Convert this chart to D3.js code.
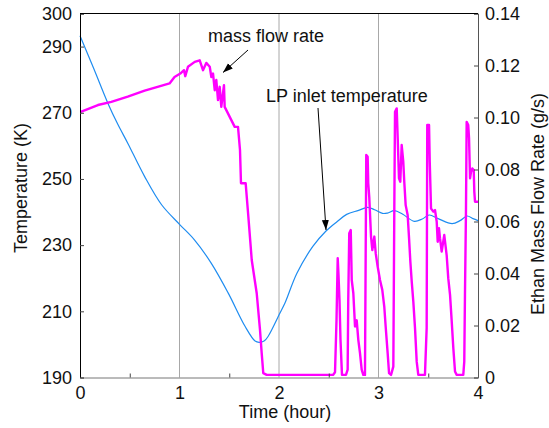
<!DOCTYPE html>
<html>
<head>
<meta charset="utf-8">
<script src="https://cdn.jsdelivr.net/npm/d3@7"></script>
<style>
  body { margin: 0; background: #fff; }
  svg { display: block; font-family: "Liberation Sans", Arial, sans-serif; }
</style>
</head>
<body>
<svg width="549" height="428"></svg>
<script>
// LP inlet temperature (K) vs time (hour)
const tempTime = [0, 0.14, 0.28, 0.38, 0.48, 0.65, 0.82, 1.0, 1.15, 1.32, 1.49, 1.66, 1.76, 1.80, 1.85, 1.89,
  2.01, 2.06, 2.18, 2.34, 2.47, 2.58, 2.68, 2.80, 2.89, 2.96, 3.04, 3.09, 3.16, 3.24, 3.36, 3.44, 3.51,
  3.60, 3.74, 3.82, 3.89, 3.95, 4.0];
const tempValues = [293.3, 283.2, 272.9, 266.5, 260.8, 250.7, 242.2, 236.3, 231.6, 224.5, 215.5, 205.4, 201.0, 200.6, 201.0, 202.4,
  209.5, 212.5, 221.5, 229.6, 234.2, 237.0, 239.3, 240.5, 241.4, 240.7, 239.6, 239.7, 240.4, 239.4, 237.2, 237.9, 239.1,
  238.0, 236.5, 237.4, 238.8, 238.0, 237.4];

// ethane mass flow rate (g/s) vs time (hour)
const flowTime = [0.007, 0.18, 0.315, 0.48, 0.65, 0.78, 0.90, 0.95, 1.008, 1.045, 1.058, 1.085, 1.153, 1.203, 1.236, 1.269,
  1.304, 1.320, 1.337, 1.354, 1.370, 1.387, 1.404, 1.420, 1.447, 1.454, 1.487, 1.521, 1.555, 1.588, 1.608, 1.618,
  1.665, 1.692, 1.726, 1.776, 1.809, 1.826, 1.842, 1.876,
  2.543, 2.563, 2.578, 2.590, 2.598, 2.608, 2.618, 2.633,
  2.673, 2.690, 2.696, 2.706, 2.721, 2.731, 2.747, 2.764, 2.781, 2.797, 2.814, 2.831, 2.847,
  2.864, 2.877, 2.891, 2.897, 2.907, 2.925, 2.938, 2.958, 2.972, 2.992, 3.015, 3.038, 3.058, 3.072, 3.092, 3.106, 3.126,
  3.149, 3.159, 3.166, 3.183, 3.193, 3.206, 3.219, 3.233, 3.249, 3.259, 3.273, 3.293, 3.307, 3.320, 3.334, 3.350,
  3.367, 3.384, 3.400, 3.467,
  3.484, 3.490, 3.508, 3.515, 3.528, 3.551, 3.568, 3.585, 3.595, 3.608, 3.618, 3.635, 3.661, 3.685, 3.701, 3.719,
  3.736, 3.752, 3.769, 3.786, 3.852,
  3.862, 3.869, 3.879, 3.886, 3.902, 3.910, 3.920, 3.930, 3.943, 3.957, 3.963, 3.970, 4.0];
const flowValues = [0.1022, 0.1048, 0.1060, 0.1080, 0.1103, 0.1118, 0.1131, 0.1156, 0.1169, 0.1182, 0.1159, 0.1195, 0.1214, 0.1220, 0.1182, 0.1210,
  0.1195, 0.1156, 0.1169, 0.1105, 0.1144, 0.1067, 0.1118, 0.1041, 0.1124, 0.1041, 0.1016, 0.0990, 0.0964, 0.0964, 0.0875, 0.0747,
  0.0747, 0.0619, 0.0452, 0.0324, 0.0183, 0.0094, 0.0017, 0.001,
  0.001, 0.002, 0.022, 0.0459, 0.0395, 0.0298, 0.0145, 0.001,
  0.001, 0.003, 0.0299, 0.0555, 0.0567, 0.0375, 0.0324, 0.0196, 0.022, 0.0145, 0.0094, 0.003, 0.001,
  0.001, 0.0856, 0.0849, 0.0747, 0.0695, 0.0542, 0.049, 0.0542, 0.0478, 0.0426, 0.0375, 0.0337, 0.0273, 0.0196, 0.0094, 0.0017, 0.001,
  0.0042, 0.0657, 0.1022, 0.1035, 0.092, 0.0766, 0.0753, 0.0894, 0.083, 0.0753, 0.0663, 0.0625, 0.0536, 0.0446, 0.0369, 0.0292,
  0.019, 0.0061, 0.001, 0.001,
  0.019, 0.0971, 0.0971, 0.083, 0.065, 0.0638, 0.0644, 0.0599, 0.0522, 0.0574, 0.0536, 0.0484, 0.0548, 0.0471, 0.0382, 0.0318,
  0.0215, 0.0113, 0.0023, 0.001, 0.001,
  0.0061, 0.0318, 0.0638, 0.0983, 0.0971, 0.092, 0.0766, 0.0791, 0.0804, 0.0798, 0.0714, 0.0676, 0.0676];

const timeTicks = [0, 1, 2, 3, 4];
const minorTimeTicks = [0.5, 1.5, 2.5, 3.5];
const gridTimes = [1, 2, 3];
const tempTicks = [190, 210, 230, 250, 270, 290, 300];
const flowTicks = [0, 0.02, 0.04, 0.06, 0.08, 0.10, 0.12, 0.14];

const svg = d3.select("svg");
const margin = { top: 13.5, right: 71, bottom: 50.5, left: 80 };
const width = 549 - margin.left - margin.right;
const height = 428 - margin.top - margin.bottom;
const g = svg.append("g").attr("transform", `translate(${margin.left},${margin.top})`);

const x = d3.scaleLinear().domain([0, 4]).range([0, width]);
const yT = d3.scaleLinear().domain([190, 300]).range([height, 0]);
const yF = d3.scaleLinear().domain([0, 0.14]).range([height, 0]);

// vertical grid lines
g.selectAll(".grid").data(gridTimes).join("line")
  .attr("x1", d => x(d)).attr("x2", d => x(d))
  .attr("y1", 0).attr("y2", height)
  .attr("stroke", "#a8a8a8").attr("stroke-width", 1);

// temperature curve
const tempData = tempTime.map((t, i) => ({ t, v: tempValues[i] }));
g.append("path")
  .datum(tempData)
  .attr("fill", "none")
  .attr("stroke", "#1e8cf0")
  .attr("stroke-width", 1.2)
  .attr("d", d3.line().x(d => x(d.t)).y(d => yT(d.v)).curve(d3.curveCatmullRom));

// flow rate curve
const flowData = flowTime.map((t, i) => ({ t, v: flowValues[i] }));
g.append("path")
  .datum(flowData)
  .attr("fill", "none")
  .attr("stroke", "#ff00ff")
  .attr("stroke-width", 2.4)
  .attr("stroke-linejoin", "round")
  .attr("d", d3.line().x(d => x(d.t)).y(d => yF(d.v)));

// axes
const fontSize = "18px";
const leftAxis = g.append("g")
  .call(d3.axisLeft(yT).tickValues(tempTicks).tickSize(-4).tickPadding(8).tickFormat(d3.format("d")));
leftAxis.select(".domain").attr("stroke", "#000");

const rightAxis = g.append("g").attr("transform", `translate(${width},0)`)
  .call(d3.axisRight(yF).tickValues(flowTicks).tickSize(-4).tickPadding(7)
    .tickFormat(d => d === 0 ? "0" : d3.format(".2f")(d)));
rightAxis.select(".domain").attr("stroke", "#555");

const bottomAxis = g.append("g").attr("transform", `translate(0,${height})`)
  .call(d3.axisBottom(x).tickValues(timeTicks).tickSize(0).tickPadding(9).tickFormat(d3.format("d")));
bottomAxis.select(".domain").attr("stroke", "#777");

g.append("g").attr("transform", `translate(0,${height})`)
  .call(d3.axisBottom(x).tickValues(minorTimeTicks).tickSize(-4).tickFormat(""))
  .select(".domain").remove();

g.selectAll(".tick text").attr("font-size", fontSize).attr("fill", "#111")
  .attr("font-family", "Liberation Sans, Arial, sans-serif");
g.selectAll(".tick line").attr("stroke", "#444");

// top border
g.append("line").attr("x1", 0).attr("x2", width).attr("y1", 0).attr("y2", 0)
  .attr("stroke", "#000");

// axis titles
svg.append("text")
  .attr("transform", `translate(27,188) rotate(-90)`)
  .attr("text-anchor", "middle")
  .attr("font-size", fontSize).attr("fill", "#111")
  .text("Temperature (K)");

svg.append("text")
  .attr("transform", `translate(544,204) rotate(-90)`)
  .attr("text-anchor", "middle")
  .attr("font-size", fontSize).attr("fill", "#111")
  .text("Ethan Mass Flow Rate (g/s)");

svg.append("text")
  .attr("x", 285).attr("y", 418)
  .attr("text-anchor", "middle")
  .attr("font-size", fontSize).attr("fill", "#111")
  .text("Time (hour)");

// annotations
svg.append("defs").append("marker")
  .attr("id", "arrow")
  .attr("viewBox", "0 0 10 10")
  .attr("refX", 10).attr("refY", 5)
  .attr("markerWidth", 10).attr("markerHeight", 10)
  .attr("markerUnits", "userSpaceOnUse")
  .attr("orient", "auto")
  .append("path").attr("d", "M0,1.5 L10,5 L0,8.5 Z").attr("fill", "#000");

svg.append("text").attr("x", 208).attr("y", 42)
  .attr("font-size", fontSize).attr("fill", "#111")
  .text("mass flow rate");
svg.append("line")
  .attr("x1", 248).attr("y1", 50).attr("x2", 223).attr("y2", 72.5)
  .attr("stroke", "#000").attr("stroke-width", 1)
  .attr("marker-end", "url(#arrow)");

svg.append("text").attr("x", 266).attr("y", 101.5)
  .attr("font-size", fontSize).attr("fill", "#111")
  .text("LP inlet temperature");
svg.append("line")
  .attr("x1", 318).attr("y1", 108).attr("x2", 326).attr("y2", 230)
  .attr("stroke", "#000").attr("stroke-width", 1)
  .attr("marker-end", "url(#arrow)");
</script>
</body>
</html>
